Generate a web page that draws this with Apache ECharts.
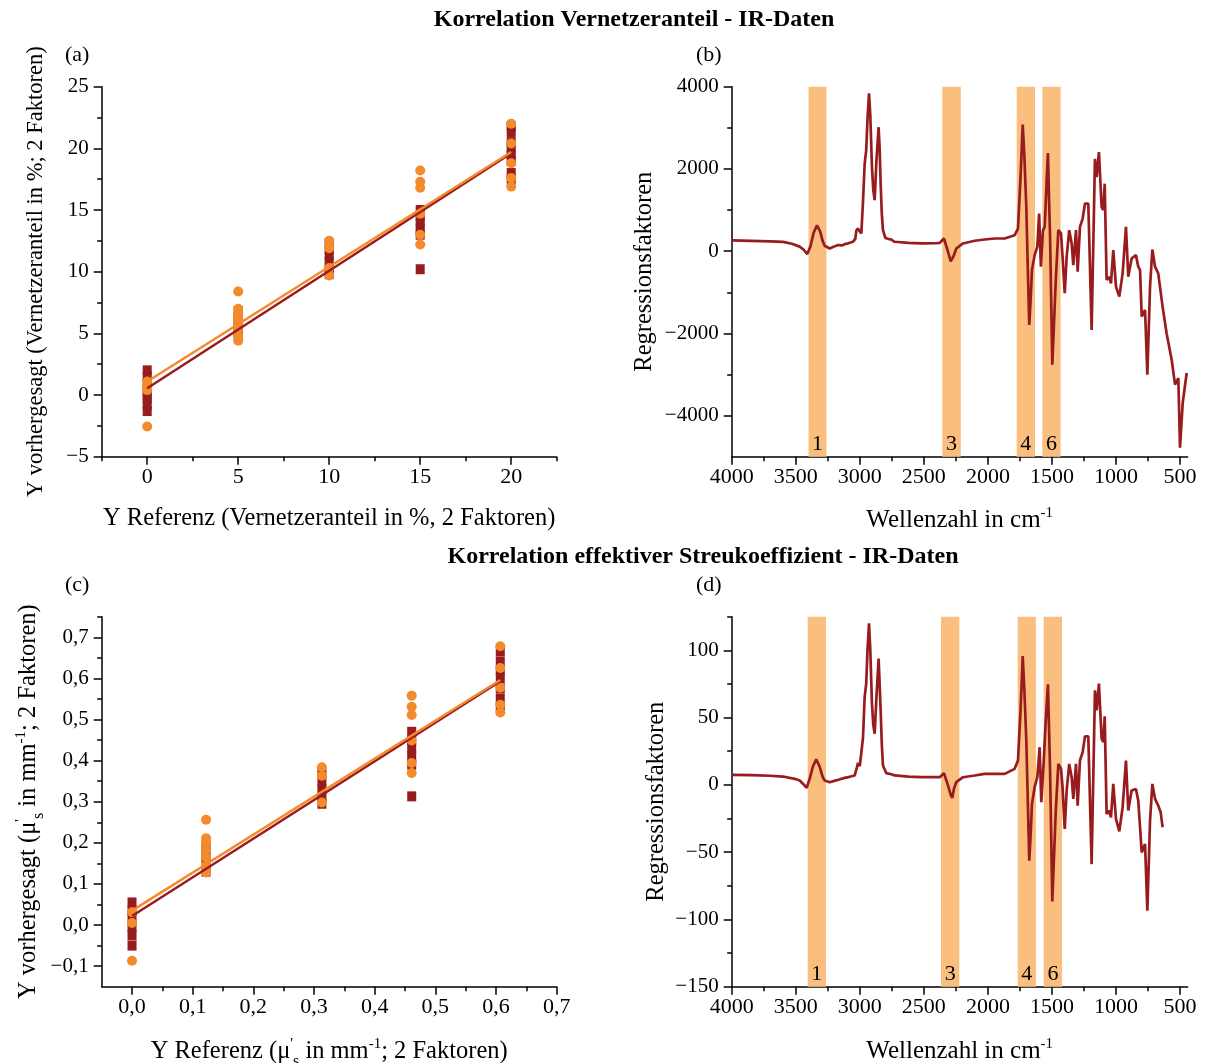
<!DOCTYPE html>
<html>
<head>
<meta charset="utf-8">
<script src="https://cdn.jsdelivr.net/npm/echarts@6/dist/echarts.min.js"></script>
<style>
html,body{margin:0;padding:0;background:#fff;}
#chart{width:1207px;height:1063px;}
</style>
</head>
<body>
<div id="chart"></div>
<script>
// ---------- DATA ----------
// Panel (a): Vernetzeranteil
const refA = [0, 5, 10, 15, 20];
const squaresA = [
  [2.0, 1.5, 1.0, 0.5, 0.0, -0.3, -0.8, -1.3],
  [6.8, 6.4, 6.0, 5.6, 5.2, 4.8],
  [12.3, 11.8, 11.3, 10.8, 10.3, 9.8],
  [15.0, 14.5, 14.0, 13.5, 13.0, 10.2],
  [21.8, 21.3, 20.5, 20.0, 19.5, 19.0, 18.0, 17.5]
];
const circlesA = [
  [1.1, 0.7, 0.4, -2.55],
  [8.4, 7.0, 6.6, 6.2, 5.8, 5.3, 4.8, 4.4],
  [12.5, 12.0, 11.9, 10.3, 9.7],
  [18.2, 17.3, 16.8, 14.7, 13.0, 12.2],
  [22.0, 20.4, 18.8, 17.6, 16.9]
];
const fitA_dark = [[0, 0.55], [20, 19.6]];
const fitA_orange = [[0, 1.1], [20, 19.7]];

// Panel (c): effektiver Streukoeffizient
const refC = [0, 0.122, 0.313, 0.461, 0.607];
const squaresC = [
  [0.055, 0.035, 0.015, -0.005, -0.025, -0.05],
  [0.19, 0.17, 0.15, 0.13],
  [0.37, 0.35, 0.33, 0.31, 0.295],
  [0.47, 0.45, 0.43, 0.41, 0.39, 0.313],
  [0.665, 0.64, 0.62, 0.60, 0.575, 0.55, 0.53]
];
const circlesC = [
  [0.031, 0.005, -0.087],
  [0.256, 0.211, 0.201, 0.183, 0.165, 0.144, 0.128],
  [0.384, 0.363, 0.298],
  [0.558, 0.531, 0.511, 0.449, 0.394, 0.37],
  [0.678, 0.625, 0.577, 0.536, 0.517]
];
const fitC_dark = [[0, 0.022], [0.607, 0.593]];
const fitC_orange = [[0, 0.035], [0.607, 0.596]];

// Panel (b): Regressionsfaktoren (Vernetzeranteil) [Wellenzahl, Wert]
const spectrumB = [
[4000,260],[3850,250],[3700,240],[3600,225],[3530,180],[3470,110],[3440,40],[3410,-72],[3385,120],[3360,450],[3334,630],[3310,480],[3290,250],[3274,130],[3235,65],[3200,110],[3170,150],[3140,140],[3118,170],[3090,190],[3053,230],[3035,300],[3027,500],[3015,550],[3000,480],[2988,430],[2975,1200],[2962,2125],[2950,2450],[2940,3200],[2928,3840],[2918,3300],[2905,2045],[2895,1500],[2884,1240],[2870,2200],[2853,3015],[2845,2500],[2837,1640],[2828,900],[2819,510],[2800,320],[2780,300],[2754,283],[2728,228],[2620,200],[2520,187],[2400,195],[2376,200],[2343,308],[2311,-15],[2290,-250],[2280,-298],[2265,-100],[2247,65],[2194,187],[2103,252],[2025,283],[2010,260],[1947,308],[1869,308],[1791,388],[1765,550],[1745,1800],[1728,3080],[1715,2300],[1700,1075],[1690,-200],[1677,-1795],[1665,-1100],[1656,-460],[1635,-97],[1614,107],[1600,914],[1586,-378],[1570,500],[1556,600],[1540,1800],[1531,2385],[1522,1200],[1515,430],[1497,-2763],[1471,-783],[1450,510],[1429,430],[1417,-137],[1400,-1025],[1385,-137],[1365,510],[1346,187],[1333,-340],[1312,510],[1299,-500],[1281,590],[1260,793],[1242,1157],[1216,1157],[1190,-1915],[1164,2247],[1151,1803],[1133,2410],[1112,1075],[1099,1000],[1088,1641],[1073,-703],[1055,-620],[1039,-783],[1021,24],[1000,-864],[974,-1107],[948,-540],[922,590],[904,-620],[878,-178],[844,-97],[826,-378],[812,-460],[799,-1591],[773,-1430],[755,-3006],[734,-864],[716,41],[695,-378],[670,-540],[636,-1349],[605,-1996],[565,-2642],[539,-3248],[513,-3087],[500,-4783],[479,-3693],[448,-2965]
];
const bandsB = [[3400, 3260, '1'], [2356, 2212, '3'], [1775, 1632, '4'], [1575, 1432, '6']];

// Panel (d): Regressionsfaktoren (Streukoeffizient)
const spectrumD = [
[4000,7.4],[3850,7.2],[3700,6.8],[3600,6.2],[3508,4.5],[3469,3.2],[3440,0.5],[3415,-2.2],[3390,5],[3365,14],[3340,18.9],[3315,14],[3290,6],[3274,3.2],[3235,2.0],[3200,3],[3160,4],[3118,5.2],[3080,6],[3040,7],[3025,12],[3014,16.4],[3000,14],[2988,12.7],[2975,35],[2962,65.3],[2950,75],[2940,100],[2928,120],[2918,100],[2905,60.3],[2895,45],[2884,38],[2870,65],[2853,93.8],[2845,75],[2837,55.4],[2828,30],[2819,14.4],[2793,8.7],[2754,7.9],[2728,7],[2620,6.2],[2520,5.7],[2376,5.7],[2343,8.7],[2311,-0.5],[2290,-7.5],[2278,-9.7],[2265,-3],[2247,2],[2194,5.7],[2103,7],[2025,8.2],[1947,8.2],[1869,8.2],[1791,11.9],[1765,18.1],[1745,55],[1728,95.8],[1715,70],[1700,33],[1690,-5],[1677,-56.4],[1665,-35],[1656,-14.2],[1635,-1.7],[1614,5.7],[1596,28],[1583,-12.9],[1565,15.6],[1550,45],[1531,74.7],[1522,40],[1515,13.2],[1497,-86.7],[1471,-21.6],[1450,15.6],[1429,11.9],[1417,-1.7],[1400,-32.8],[1385,-4.2],[1365,15.6],[1346,5.7],[1333,-10.4],[1312,15.6],[1299,-15.4],[1281,18.1],[1260,24.4],[1242,36],[1216,36],[1190,-58.9],[1164,70.3],[1151,55.4],[1133,75.3],[1112,34.3],[1099,31.8],[1088,50.9],[1073,-21.6],[1055,-19],[1039,-24.1],[1021,0.7],[1000,-25.3],[974,-34.5],[948,-16.6],[922,18.1],[904,-19],[878,-4.2],[844,-3],[826,-11.7],[812,-12.9],[799,-50.2],[773,-44],[755,-93.6],[734,-26.6],[716,0.7],[695,-10.4],[670,-15.4],[651,-20.4],[636,-31.5]
];
const bandsD = [[3407, 3264, '1'], [2366, 2223, '3'], [1767, 1625, '4'], [1564, 1421, '6']];

// Tick values
const ticksAx = [0, 5, 10, 15, 20], minorAx = [-2.5, 2.5, 7.5, 12.5, 17.5, 22.5];
const ticksAy = [-5, 0, 5, 10, 15, 20, 25], minorAy = [-2.5, 2.5, 7.5, 12.5, 17.5, 22.5];
const ticksWn = [4000, 3500, 3000, 2500, 2000, 1500, 1000, 500], minorWn = [3750, 3250, 2750, 2250, 1750, 1250, 750];
const ticksBy = [-4000, -2000, 0, 2000, 4000], minorBy = [-3000, -1000, 1000, 3000];
const ticksCx = [0, 0.1, 0.2, 0.3, 0.4, 0.5, 0.6, 0.7], minorCx = [0.05, 0.15, 0.25, 0.35, 0.45, 0.55, 0.65];
const ticksCy = [-0.1, 0, 0.1, 0.2, 0.3, 0.4, 0.5, 0.6, 0.7], minorCy = [-0.05, 0.05, 0.15, 0.25, 0.35, 0.45, 0.55, 0.65, 0.75];
const ticksDy = [-150, -100, -50, 0, 50, 100], minorDy = [-125, -75, -25, 25, 75, 125];

// ---------- STYLE ----------
const FONT = 'Liberation Serif';
const DARK = '#981B1E';
const ORANGE = '#F38A2C';
const BAND = '#FABF7F';
const LBLX = 22, LBLY = 21;

const grids = [
  {left: 101.7, top: 86.7, width: 455, height: 370, outerBoundsMode: 'none', containLabel: false},
  {left: 731.7, top: 86.7, width: 456, height: 370, outerBoundsMode: 'none', containLabel: false},
  {left: 101.7, top: 616.7, width: 455, height: 370, outerBoundsMode: 'none', containLabel: false},
  {left: 731.7, top: 616.7, width: 456, height: 370, outerBoundsMode: 'none', containLabel: false}
];

const minus = s => String(s).replace('-', '\u2212');
const fmtInt = v => minus(Math.round(v));
const fmtDec = v => minus((Math.round(v * 10) / 10).toFixed(1).replace('.', ','));

function richFor(size) {
  const s = Math.round(size * 0.6);
  return {
    sup: {fontFamily: FONT, fontSize: s, verticalAlign: 'top', lineHeight: s, color: '#000'},
    sub: {fontFamily: FONT, fontSize: s + 1, verticalAlign: 'bottom', lineHeight: s + 1, color: '#000', padding: [0, 0, -4, 0]}
  };
}

function mainAxis(dim, grid, min, max, ticks, fmt, name, nameGap, nameSize, inverse) {
  return {
    type: 'value', gridIndex: grid, min: min, max: max, inverse: !!inverse,
    position: dim === 'x' ? 'bottom' : 'left',
    axisLine: {show: true, onZero: false, lineStyle: {color: '#000', width: 1.5}},
    axisTick: {show: true, inside: false, length: 8, lineStyle: {color: '#000', width: 1.5}, customValues: ticks},
    axisLabel: {show: true, customValues: ticks, formatter: fmt, fontFamily: FONT,
      fontSize: dim === 'x' ? LBLX : LBLY, color: '#000', margin: dim === 'x' ? 10 : 13},
    splitLine: {show: false},
    name: name, nameLocation: 'middle', nameGap: nameGap,
    nameTextStyle: {fontFamily: FONT, fontSize: nameSize, color: '#000', lineHeight: Math.round(nameSize * 1.2), rich: richFor(nameSize)}
  };
}
function minorAxis(dim, grid, min, max, ticks, inverse) {
  return {
    type: 'value', gridIndex: grid, min: min, max: max, inverse: !!inverse,
    position: dim === 'x' ? 'bottom' : 'left',
    axisLine: {show: false, onZero: false},
    axisTick: {show: true, inside: false, length: 4.5, lineStyle: {color: '#000', width: 1.5}, customValues: ticks},
    axisLabel: {show: false},
    splitLine: {show: false}
  };
}

const xAxis = [
  mainAxis('x', 0, -2.5, 22.5, ticksAx, fmtInt, 'Y Referenz (Vernetzeranteil in %, 2 Faktoren)', 47, 24.5),
  minorAxis('x', 0, -2.5, 22.5, minorAx),
  mainAxis('x', 1, 440, 4000, ticksWn, fmtInt, 'Wellenzahl in cm{sup|-1}', 49, 25, true),
  minorAxis('x', 1, 440, 4000, minorWn, true),
  mainAxis('x', 2, -0.05, 0.7, ticksCx, fmtDec, 'Y Referenz (\u03bc{sup|\'}{sub|s} in mm{sup|-1}; 2 Faktoren)', 50, 24.5),
  minorAxis('x', 2, -0.05, 0.7, minorCx),
  mainAxis('x', 3, 440, 4000, ticksWn, fmtInt, 'Wellenzahl in cm{sup|-1}', 50, 25, true),
  minorAxis('x', 3, 440, 4000, minorWn, true)
];
const yAxis = [
  mainAxis('y', 0, -5, 25, ticksAy, fmtInt, 'Y vorhergesagt (Vernetzeranteil in %; 2 Faktoren)', 52, 22.5),
  minorAxis('y', 0, -5, 25, minorAy),
  mainAxis('y', 1, -5000, 4000, ticksBy, fmtInt, 'Regressionsfaktoren', 73, 24.5),
  minorAxis('y', 1, -5000, 4000, minorBy),
  mainAxis('y', 2, -0.15, 0.75, ticksCy, fmtDec, 'Y vorhergesagt (\u03bc{sup|\'}{sub|s} in mm{sup|-1}; 2 Faktoren)', 51, 24.5),
  minorAxis('y', 2, -0.15, 0.75, minorCy),
  mainAxis('y', 3, -150, 125, ticksDy, fmtInt, 'Regressionsfaktoren', 59, 24.5),
  minorAxis('y', 3, -150, 125, minorDy)
];

function pts(refs, groups) {
  const out = [];
  groups.forEach((g, i) => g.forEach(v => out.push([refs[i], v])));
  return out;
}

function scatterPanel(axisIdx, refs, sq, ci, fitDark, fitOrange) {
  return [
    {type: 'scatter', xAxisIndex: axisIdx, yAxisIndex: axisIdx, data: pts(refs, sq),
     symbol: 'rect', symbolSize: [9, 10], itemStyle: {color: DARK, opacity: 1}, z: 2, silent: true},
    {type: 'scatter', xAxisIndex: axisIdx, yAxisIndex: axisIdx, data: pts(refs, ci),
     symbol: 'circle', symbolSize: 10, itemStyle: {color: ORANGE, opacity: 1}, z: 3, silent: true},
    {type: 'line', xAxisIndex: axisIdx, yAxisIndex: axisIdx, data: fitDark, showSymbol: false,
     lineStyle: {color: DARK, width: 2.5}, z: 4, silent: true},
    {type: 'line', xAxisIndex: axisIdx, yAxisIndex: axisIdx, data: fitOrange, showSymbol: false,
     lineStyle: {color: ORANGE, width: 2.5}, z: 5, silent: true}
  ];
}

function spectrumPanel(axisIdx, data, bands) {
  return [
    {type: 'line', xAxisIndex: axisIdx, yAxisIndex: axisIdx, data: [], z: 1, silent: true,
     markArea: {silent: true, itemStyle: {color: BAND},
       label: {show: true, position: 'insideBottom', distance: 1, color: '#000', fontFamily: FONT, fontSize: 22},
       data: bands.map(b => [{name: b[2], xAxis: b[0]}, {xAxis: b[1]}])}},
    {type: 'line', xAxisIndex: axisIdx, yAxisIndex: axisIdx, data: data, showSymbol: false,
     lineStyle: {color: DARK, width: 2.7}, z: 3, silent: true}
  ];
}

const series = [].concat(
  scatterPanel(0, refA, squaresA, circlesA, fitA_dark, fitA_orange),
  spectrumPanel(2, spectrumB, bandsB),
  scatterPanel(4, refC, squaresC, circlesC, fitC_dark, fitC_orange),
  spectrumPanel(6, spectrumD, bandsD)
);

const graphic = [
  {type: 'text', x: 634, y: 20, style: {text: 'Korrelation Vernetzeranteil - IR-Daten', fontFamily: FONT, fontSize: 24, fontWeight: 'bold', fill: '#000', textAlign: 'center', textVerticalAlign: 'middle'}},
  {type: 'text', x: 703, y: 557, style: {text: 'Korrelation effektiver Streukoeffizient - IR-Daten', fontFamily: FONT, fontSize: 24, fontWeight: 'bold', fill: '#000', textAlign: 'center', textVerticalAlign: 'middle'}},
  {type: 'text', x: 65, y: 55, style: {text: '(a)', fontFamily: FONT, fontSize: 22, fill: '#000', textVerticalAlign: 'middle'}},
  {type: 'text', x: 696, y: 55, style: {text: '(b)', fontFamily: FONT, fontSize: 22, fill: '#000', textVerticalAlign: 'middle'}},
  {type: 'text', x: 65, y: 585, style: {text: '(c)', fontFamily: FONT, fontSize: 22, fill: '#000', textVerticalAlign: 'middle'}},
  {type: 'text', x: 696, y: 585, style: {text: '(d)', fontFamily: FONT, fontSize: 22, fill: '#000', textVerticalAlign: 'middle'}}
];

const chart = echarts.init(document.getElementById('chart'), null, {renderer: 'canvas'});
chart.setOption({
  animation: false,
  backgroundColor: '#fff',
  grid: grids,
  xAxis: xAxis,
  yAxis: yAxis,
  series: series,
  graphic: graphic
});
</script>
</body>
</html>
